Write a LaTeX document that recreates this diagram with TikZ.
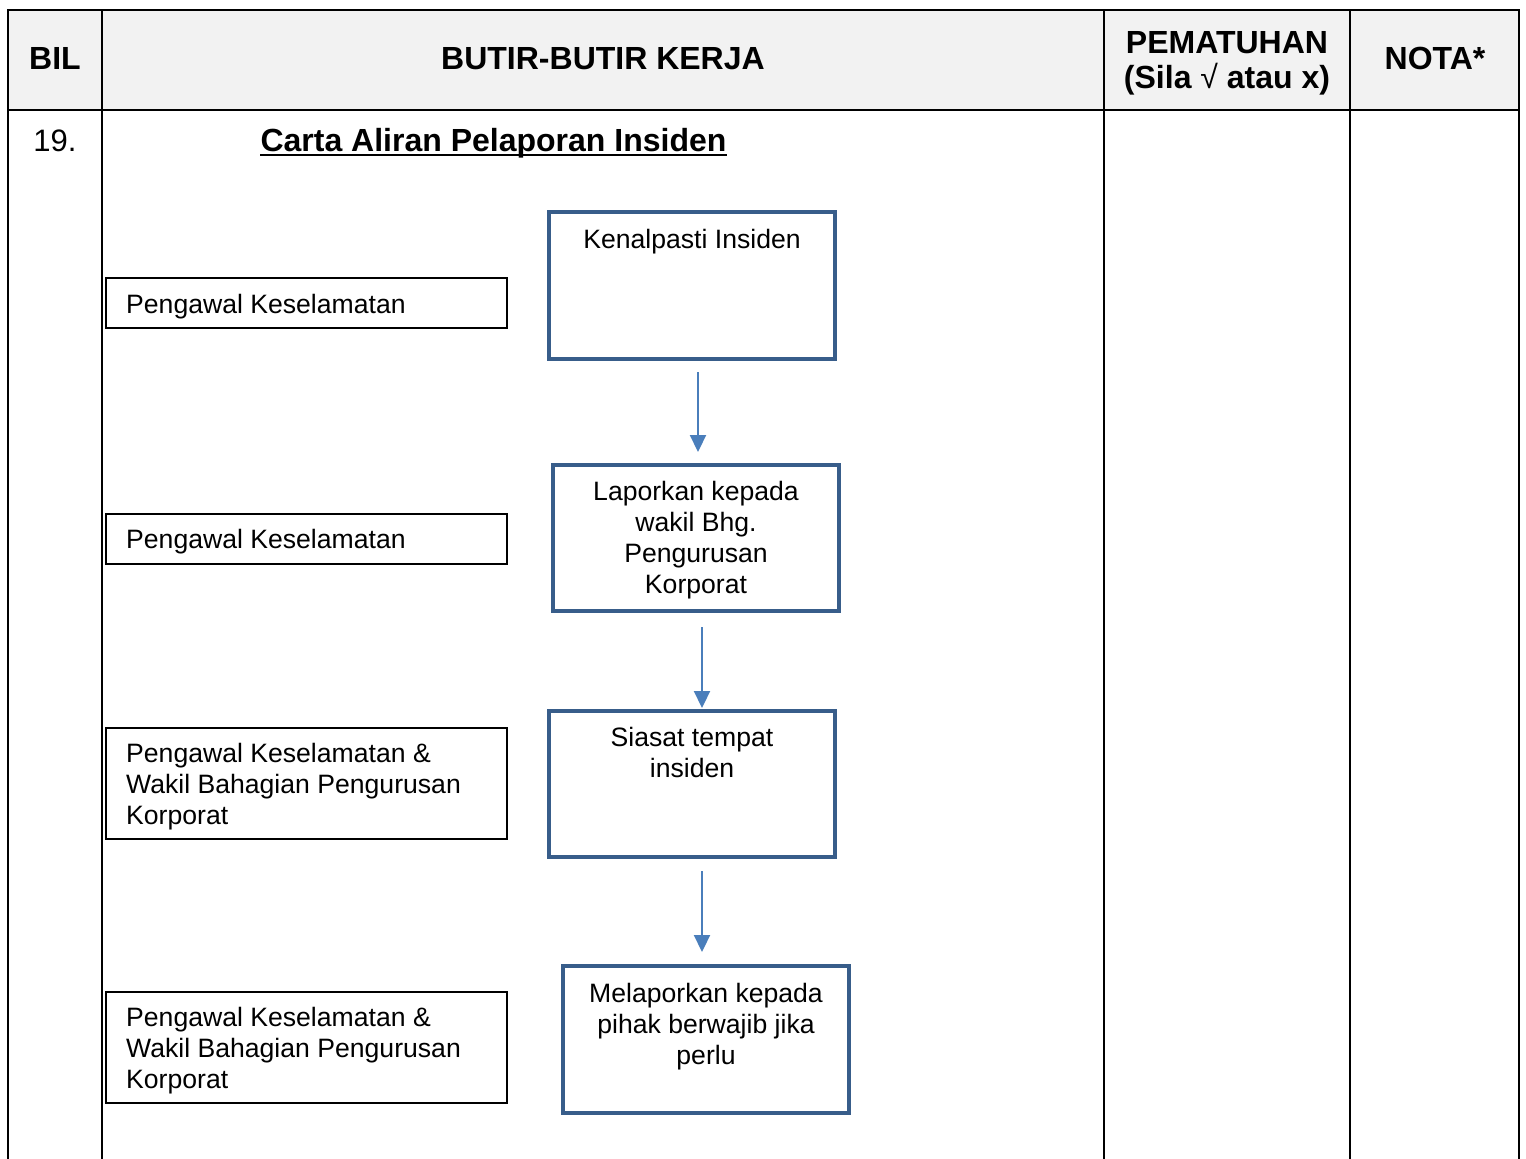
\documentclass[tikz,border=0pt]{standalone}
\usepackage{fontspec}
\setmainfont{Liberation Sans}
\usetikzlibrary{arrows.meta,calc}
\definecolor{boxblue}{HTML}{385D8A}
\definecolor{arrblue}{HTML}{4A7EBB}
\definecolor{headgray}{HTML}{F2F2F2}
\begin{document}
\begin{tikzpicture}[x=1pt,y=-1pt,
  bluebox/.style={draw=boxblue,line width=4.6pt,outer sep=0pt,inner sep=0pt,rectangle,fill=white},
  blackbox/.style={draw=black,line width=1.8pt,outer sep=0pt,inner sep=0pt,rectangle,fill=white},
  flowtxt/.style={inner sep=0pt,anchor=base,font=\fontsize{26.6}{31}\selectfont},
  headtxt/.style={inner sep=0pt,anchor=base,font=\fontsize{32}{35}\selectfont\bfseries},
  rowtxt/.style={inner sep=0pt,anchor=base,font=\fontsize{31}{35}\selectfont},
  arr/.style={draw=arrblue,line width=2.2pt,-{Triangle[width=16pt,length=17pt]}},
  gridline/.style={line width=2pt,draw=black}]

\useasboundingbox (0,0) rectangle (1526,1159);

% table
\fill[headgray] (8,10) rectangle (1519,110);
\draw[gridline] (8,1159) -- (8,10) -- (1519,10) -- (1519,1159);
\draw[gridline] (8,110) -- (1519,110);
\foreach \x in {102,1104,1350} \draw[gridline] (\x,10) -- (\x,1159);

% header texts
\node[headtxt] (hbil) at (55,69) {BIL};
\node[headtxt] (hbutir) at (603,69) {BUTIR-BUTIR KERJA};
\node[headtxt] (hpem) at (1227,53) {\parbox[t]{240pt}{\centering PEMATUHAN\\(Sila {\mdseries √} atau x)}};
\node[headtxt] (hnota) at (1435,69) {NOTA*};

% row
\node[rowtxt] (num) at (55,151) {19.};
\node[headtxt] (title) at (493.5,151) {Carta Aliran Pelaporan Insiden};
\draw[line width=2.2pt] ($(title.base west)+(0,3.7)$) -- ($(title.base east)+(0,3.7)$);

% left boxes
\node[blackbox, minimum width=401pt, minimum height=50pt] (l1) at (306.5,303) {};
\node[blackbox, minimum width=401pt, minimum height=50pt] (l2) at (306.5,539) {};
\node[blackbox, minimum width=401pt, minimum height=111pt] (l3) at (306.5,783.5) {};
\node[blackbox, minimum width=401pt, minimum height=111pt] (l4) at (306.5,1047.5) {};

\node[flowtxt, anchor=base west] (l1t) at (126,313) {Pengawal Keselamatan};
\node[flowtxt, anchor=base west] (l2t) at (126,548) {Pengawal Keselamatan};
\node[flowtxt, anchor=base west] (l3t) at (126,762) {\parbox[t]{370pt}{\raggedright Pengawal Keselamatan \&\\Wakil Bahagian Pengurusan\\Korporat}};
\node[flowtxt, anchor=base west] (l4t) at (126,1026) {\parbox[t]{370pt}{\raggedright Pengawal Keselamatan \&\\Wakil Bahagian Pengurusan\\Korporat}};

% blue boxes
\node[bluebox, minimum width=286pt, minimum height=147pt] (b1) at (692,285.5) {};
\node[bluebox, minimum width=286pt, minimum height=146pt] (b2) at (696,538) {};
\node[bluebox, minimum width=286pt, minimum height=146pt] (b3) at (692,784) {};
\node[bluebox, minimum width=286pt, minimum height=147pt] (b4) at (706,1039.5) {};

\node[flowtxt] (b1t) at (692,248) {Kenalpasti Insiden};
\node[flowtxt] (b2t) at (696,500) {\parbox[t]{280pt}{\centering Laporkan kepada\\wakil Bhg.\\Pengurusan\\Korporat}};
\node[flowtxt] (b3t) at (692,746) {\parbox[t]{280pt}{\centering Siasat tempat\\insiden}};
\node[flowtxt] (b4t) at (706,1002) {\parbox[t]{280pt}{\centering Melaporkan kepada\\pihak berwajib jika\\perlu}};

% arrows
\draw[arr] ($(b1.south)+(6,13)$) -- ($(b2.north)+(2,-13)$);
\draw[arr] ($(b2.south)+(6,16)$) -- ($(b3.north)+(10,-3)$);
\draw[arr] ($(b3.south)+(10,14)$) -- ($(b4.north)+(-4,-14)$);
\end{tikzpicture}
\end{document}
